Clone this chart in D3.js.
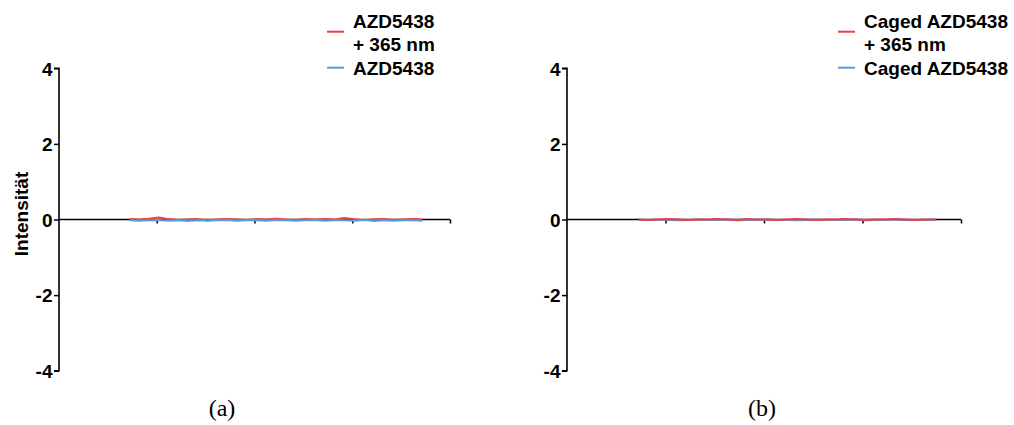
<!DOCTYPE html>
<html>
<head>
<meta charset="utf-8">
<script src="https://cdn.jsdelivr.net/npm/d3@7"></script>
<style>
  html, body { margin: 0; padding: 0; background: #ffffff; }
  svg { display: block; }
</style>
</head>
<body>
<svg id="chart" width="1014" height="425"></svg>
<script>
// ---- Data ----
const xValues = [0.72,0.82,0.92,1.02,1.12,1.22,1.32,1.42,1.52,1.62,1.72,1.82,1.92,2.02,2.12,2.22,2.32,2.42,2.52,2.62,2.72,2.82,2.92,3.02,3.12,3.22,3.32,3.42,3.52,3.62,3.72];
const xValuesB = [0.73,0.83,0.93,1.03,1.13,1.23,1.33,1.43,1.53,1.63,1.73,1.83,1.93,2.03,2.13,2.23,2.33,2.43,2.53,2.63,2.73,2.83,2.93,3.03,3.13,3.23,3.33,3.43,3.53,3.63,3.74];
const yTicks = [-4, -2, 0, 2, 4];
const xTicks = [1, 2, 3, 4];

// panel (a)
const irradiatedA = [0.01,0.00,0.02,0.05,0.01,-0.01,0.00,0.01,-0.02,0.00,0.01,0.00,-0.01,0.01,0.00,0.02,0.00,-0.01,0.01,0.00,0.01,0.00,0.04,0.01,-0.02,0.00,0.01,-0.01,0.00,0.01,0.00];
const darkA = [-0.02,-0.03,-0.02,-0.01,-0.03,-0.02,-0.04,-0.02,-0.03,-0.02,-0.01,-0.03,-0.02,-0.02,-0.03,-0.01,-0.02,-0.03,-0.02,-0.01,-0.03,-0.02,-0.02,-0.03,-0.01,-0.04,-0.02,-0.03,-0.02,-0.02,-0.03];
// panel (b)
const irradiatedB = [0.00,-0.01,0.00,0.01,0.00,-0.01,0.00,0.00,0.01,0.00,-0.01,0.01,0.00,0.00,-0.01,0.00,0.01,0.00,-0.01,0.00,0.00,0.01,0.00,-0.01,0.00,0.00,0.01,0.00,-0.01,0.00,0.00];
const darkB = [-0.01,-0.01,0.00,-0.01,-0.02,-0.01,0.00,-0.01,-0.01,0.00,-0.02,-0.01,-0.01,0.00,-0.01,-0.01,-0.02,-0.01,0.00,-0.01,-0.01,-0.01,0.00,-0.02,-0.01,-0.01,0.00,-0.01,-0.01,-0.01,-0.01];

const legendA = [["AZD5438", "+ 365 nm"], ["AZD5438"]];
const legendB = [["Caged AZD5438", "+ 365 nm"], ["Caged AZD5438"]];
const captions = ["(a)", "(b)"];

const RED = "#e8413f";
const BLUE = "#5b9bdc";

const svg = d3.select("#chart");
const sans = "'Liberation Sans', Arial, Helvetica, sans-serif";

function panel(opts) {
  const g = svg.append("g");
  const x = d3.scaleLinear().domain([0, 4]).range([opts.x0, opts.x1]);
  const y = d3.scaleLinear().domain([-4, 4]).range([370.7, 68.3]);

  // y axis
  const ya = g.append("g").attr("transform", `translate(${opts.x0},0)`)
    .call(d3.axisLeft(y).tickValues(yTicks).tickSize(5).tickPadding(1.5).tickFormat(d => String(d)));
  ya.select(".domain").attr("stroke", "#000").attr("stroke-width", 1.6).attr("d", `M-5,${y(4)}H0V${y(-4)}H-5`);
  ya.selectAll(".tick line").attr("stroke", "#000").attr("stroke-width", 1.5);
  ya.selectAll(".tick text").attr("font-family", sans).attr("font-weight", "bold")
    .attr("font-size", 19).attr("fill", "#000").attr("dy", "0.36em");

  // x axis at y=0
  const xa = g.append("g").attr("transform", `translate(0,${y(0)})`)
    .call(d3.axisBottom(x).tickValues(xTicks).tickSize(4).tickFormat(""));
  xa.select(".domain").attr("stroke", "#000").attr("stroke-width", 1.6).attr("d", `M${x(0)},0H${x(4)}`);
  xa.selectAll(".tick line").attr("stroke", "#000").attr("stroke-width", 1.5);

  const line = d3.line().x((d, i) => x(opts.xs[i])).y(d => y(d));
  opts.series.forEach(s => {
    g.append("path").datum(s.values).attr("d", line)
      .attr("fill", "none").attr("stroke", s.color).attr("stroke-width", 2)
      .attr("stroke-linejoin", "round");
  });

  // legend
  const lg = g.append("g");
  lg.append("line").attr("x1", opts.lx).attr("x2", opts.lx + 17).attr("y1", 31.7).attr("y2", 31.7)
    .attr("stroke", RED).attr("stroke-width", 2);
  lg.append("line").attr("x1", opts.lx).attr("x2", opts.lx + 17).attr("y1", 67.7).attr("y2", 67.7)
    .attr("stroke", BLUE).attr("stroke-width", 2);
  const tx = opts.lx + 26;
  const baselines = [[28, 50.5], [74.5]];
  opts.legend.forEach((lines, i) => {
    lines.forEach((t, j) => {
      lg.append("text").attr("x", tx).attr("y", baselines[i][j]).text(t)
        .attr("font-family", sans).attr("font-weight", "bold").attr("font-size", 19).attr("fill", "#000");
    });
  });

  // caption
  svg.append("text").attr("x", opts.cx).attr("y", 416).attr("text-anchor", "middle")
    .attr("font-family", "'Liberation Serif', 'DejaVu Serif', serif").attr("font-size", 24)
    .attr("fill", "#000").text(opts.caption);
}

panel({
  x0: 59, x1: 450, xs: xValues,
  series: [{values: irradiatedA, color: RED}, {values: darkA, color: BLUE}],
  legend: legendA, lx: 327, cx: 222, caption: captions[0]
});
panel({
  x0: 567, x1: 961, xs: xValuesB,
  series: [{values: darkB, color: BLUE}, {values: irradiatedB, color: RED}],
  legend: legendB, lx: 838, cx: 762, caption: captions[1]
});

// y-axis label
svg.append("text").attr("transform", "translate(27.5,214) rotate(-90)")
  .attr("text-anchor", "middle").attr("font-family", sans).attr("font-weight", "bold")
  .attr("font-size", 19).attr("fill", "#000").text("Intensität");
</script>
</body>
</html>
